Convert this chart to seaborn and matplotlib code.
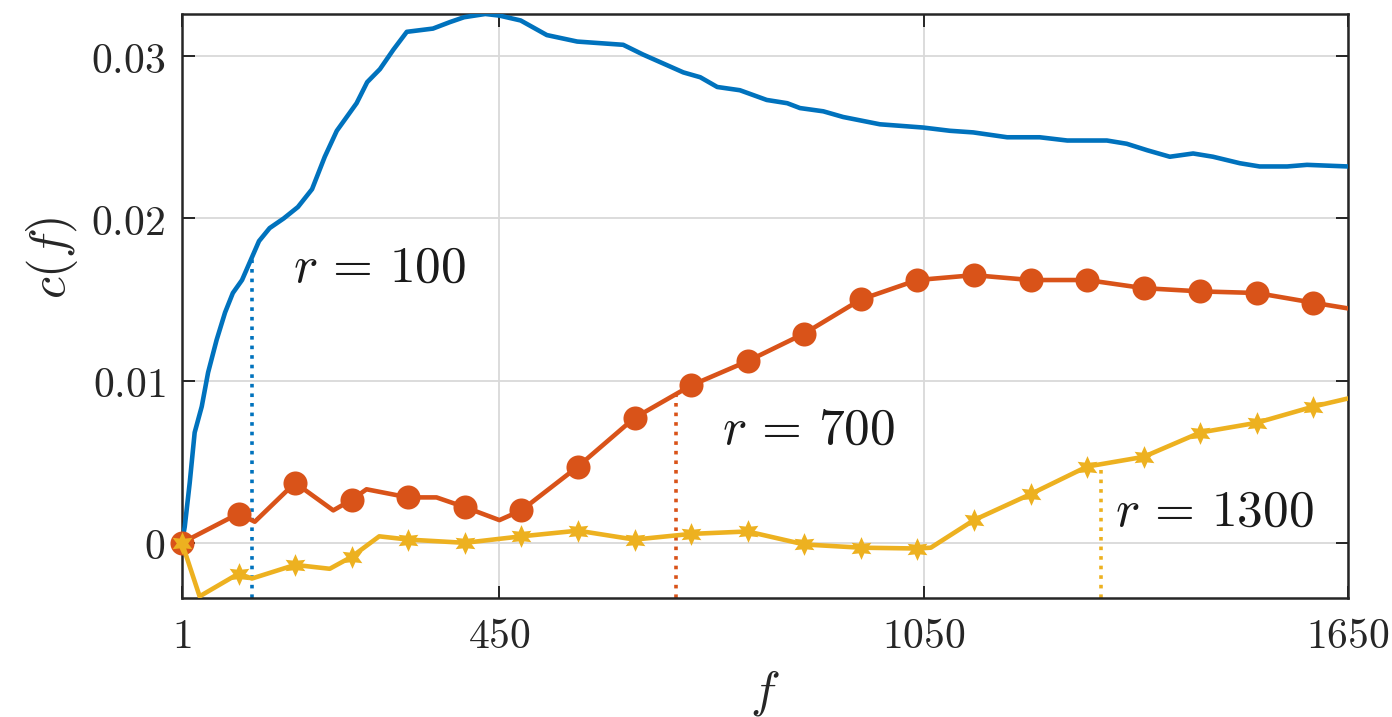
import numpy as np
import pandas as pd
import matplotlib
matplotlib.use("Agg")
import matplotlib.pyplot as plt
import seaborn as sns

# ---- data -------------------------------------------------------------
f_r100 = [1, 5, 12, 19, 29, 38, 50, 62, 73, 86, 100, 110, 125, 145, 165, 185,
          203, 220, 248, 263, 281, 300, 319, 356, 380, 400, 430, 450, 480, 517,
          560, 625, 653, 710, 734, 758, 790, 828, 857, 875, 908, 936, 988, 1049,
          1087, 1120, 1168, 1214, 1253, 1309, 1337, 1366, 1398, 1431, 1459,
          1497, 1525, 1564, 1592, 1650]
c_r100 = [0.0, 0.0010, 0.0037, 0.0068, 0.0084, 0.0105, 0.0125, 0.0142, 0.0154,
          0.0162, 0.0176, 0.0186, 0.0194, 0.0200, 0.0207, 0.0218, 0.0238,
          0.0254, 0.0271, 0.0284, 0.0292, 0.0304, 0.0315, 0.0317, 0.0321,
          0.0324, 0.0326, 0.0325, 0.0322, 0.0313, 0.0309, 0.0307, 0.0301,
          0.0290, 0.0287, 0.0281, 0.0279, 0.0273, 0.0271, 0.0268, 0.0266,
          0.02625, 0.0258, 0.0256, 0.0254, 0.0253, 0.0250, 0.0250, 0.0248,
          0.0248, 0.0246, 0.0242, 0.0238, 0.0240, 0.0238, 0.0234, 0.0232,
          0.0232, 0.0233, 0.0232]

f_r700 = [1, 81, 104, 161, 215, 241, 262, 321, 361, 401, 450, 481, 561, 641,
          721, 801, 881, 961, 1041, 1121, 1201, 1281, 1361, 1441, 1521, 1601,
          1650]
c_r700 = [0.0, 0.0018, 0.0013, 0.0037, 0.0020, 0.00265, 0.0033, 0.0028,
          0.0028, 0.0022, 0.0014, 0.0020, 0.0047, 0.0077, 0.0097, 0.0112,
          0.0129, 0.0150, 0.0162, 0.0165, 0.0162, 0.0162, 0.0157, 0.0155,
          0.0154, 0.0148, 0.01445]

f_r1300 = [1, 26, 81, 100, 161, 210, 241, 280, 321, 401, 481, 561, 641, 721,
           801, 881, 961, 1041, 1060, 1121, 1201, 1281, 1361, 1441, 1521,
           1601, 1650]
c_r1300 = [0.0, -0.0033, -0.0019, -0.0022, -0.00136, -0.0016, -0.00086,
           0.0004, 0.0002, 0.0, 0.0004, 0.00075, 0.0002, 0.00055, 0.0007,
           -0.0001, -0.0003, -0.00035, -0.0003, 0.0014, 0.0030, 0.0047,
           0.0053, 0.0068, 0.0074, 0.0084, 0.0089]

r_values = [100, 700, 1300]
r_labels = ["$r\\,=\\,100$", "$r\\,=\\,700$", "$r\\,=\\,1300$"]
label_pos = [(158, 0.01694), (765, 0.00696), (1320, 0.0019)]

x_ticks = [1, 450, 1050, 1650]
y_ticks = [0.0, 0.01, 0.02, 0.03]
y_tick_labels = ["0", "0.01", "0.02", "0.03"]

colors = ["#0072BD", "#D95319", "#EDB120"]

# ---- style ------------------------------------------------------------
sns.set_theme(style="white")
plt.rcParams["mathtext.fontset"] = "cm"
plt.rcParams["font.family"] = ["DejaVu Serif", "DejaVu Sans"]

fig = plt.figure(figsize=(13.92, 7.17), dpi=100)
ax = fig.add_axes([0.1307, 0.166, 0.8377, 0.8145])

series = [(f_r100, c_r100), (f_r700, c_r700), (f_r1300, c_r1300)]
lw = 3.3

for i, (fx, cy) in enumerate(series):
    df = pd.DataFrame({"f": fx, "c": cy})
    sns.lineplot(data=df, x="f", y="c", ax=ax, color=colors[i], lw=lw,
                 sort=False, estimator=None, zorder=3 + i)
for line in ax.get_lines():
    line.set_linewidth(lw)
    line.set_solid_joinstyle("round")
    line.set_solid_capstyle("round")

# markers every 80 samples on the r = 700 and r = 1300 curves
for i, marker, size in [(1, "o", 300), (2, (6, 1, 0), 270)]:
    fx, cy = series[i]
    df = pd.DataFrame({"f": fx, "c": cy})
    df = df[((df["f"] - 1) % 80 == 0)]
    sns.scatterplot(data=df, x="f", y="c", ax=ax, color=colors[i],
                    marker=marker, s=size, linewidth=0, zorder=3 + i,
                    clip_on=False)

ylo, yhi = -0.0034, 0.0326
# dotted drop lines at each r, up to the curve
for i, r in enumerate(r_values):
    fx, cy = series[i]
    top = np.interp(r, fx, cy)
    ax.plot([r, r], [ylo, top], linestyle=":", color=colors[i],
            linewidth=2.6, zorder=2)
    ax.text(label_pos[i][0], label_pos[i][1], r_labels[i], fontsize=37,
            ha="left", va="center", color="#1a1a1a", zorder=10)

ax.set_xlim(1, 1650)
ax.set_ylim(ylo, yhi)
ax.set_xticks(x_ticks)
ax.set_xticklabels([f"${t}$" for t in x_ticks])
ax.set_yticks(y_ticks)
ax.set_yticklabels([f"${t}$" for t in y_tick_labels])

ax.grid(True, color="#d9d9d9", linewidth=1.3, zorder=0)
ax.set_axisbelow(True)
ax.tick_params(axis="both", which="major", direction="in", length=9,
               width=1.4, color="#262626", labelsize=30, labelcolor="#262626",
               top=True, right=True, bottom=True, left=True)
ax.tick_params(axis="x", pad=12)
ax.tick_params(axis="y", pad=12)
for sp in ax.spines.values():
    sp.set_visible(True)
    sp.set_color("#262626")
    sp.set_linewidth(1.8)

ax.set_xlabel("$f$", fontsize=36, color="#262626", va="center")
ax.set_ylabel("$c(f)$", fontsize=36, color="#262626", va="center")
ax.xaxis.set_label_coords(0.5, -0.163)
ax.yaxis.set_label_coords(-0.111, 0.582)

fig.savefig("out.png", dpi=100)
